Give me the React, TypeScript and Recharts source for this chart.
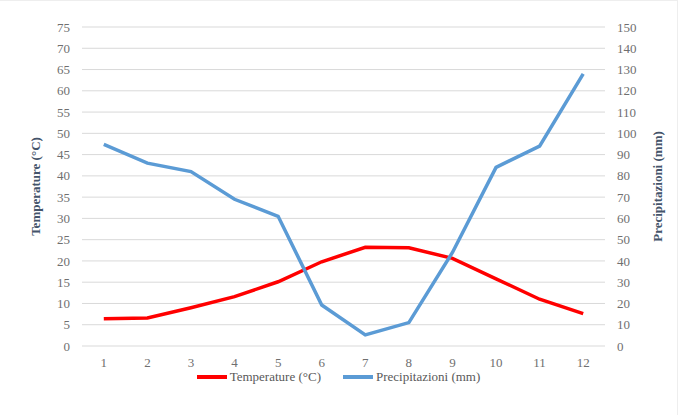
import React from "react";
import { LineChart, Line, XAxis, YAxis, CartesianGrid, Legend } from "recharts";

const months = ["1", "2", "3", "4", "5", "6", "7", "8", "9", "10", "11", "12"];
const temperature = [6.4, 6.6, 9.0, 11.6, 15.1, 19.8, 23.2, 23.1, 20.6, 15.8, 11.0, 7.6];
const precipitation = [94.8, 86, 82, 69, 61, 19.3, 5.2, 11, 44, 84, 94, 128];
const leftTicks = [0, 5, 10, 15, 20, 25, 30, 35, 40, 45, 50, 55, 60, 65, 70, 75];
const rightTicks = [0, 10, 20, 30, 40, 50, 60, 70, 80, 90, 100, 110, 120, 130, 140, 150];
const seriesOrder = ["temp", "prec"];

const data = months.map((m, i) => ({
  month: m,
  temp: temperature[i],
  prec: precipitation[i],
}));

const FONT = "Times New Roman, Liberation Serif, serif";
const tickStyle = { fontFamily: FONT, fontSize: 13, fill: "#6f6f6f" };

const renderLegend = (props: any) => {
  const payload = [...(props.payload || [])].sort(
    (a: any, b: any) => seriesOrder.indexOf(a.dataKey) - seriesOrder.indexOf(b.dataKey)
  );
  return (
    <div style={{ display: "flex", justifyContent: "center", alignItems: "center", fontFamily: FONT, fontSize: 13, color: "#595959" }}>
      {payload.map((entry: any, i: number) => (
        <div key={i} style={{ display: "flex", alignItems: "center", marginRight: i === 0 ? 22 : 0 }}>
          <span style={{ display: "inline-block", width: 30, height: 4, background: entry.color, marginRight: 3 }} />
          <span style={{ fontFamily: FONT }}>{entry.value}</span>
        </div>
      ))}
    </div>
  );
};

export default function App() {
  return (
    <div style={{ position: "absolute", left: 0, top: 0, width: 678, height: 415, background: "#fff", boxSizing: "border-box", borderTop: "1px solid #eeeeee", borderRight: "1px solid #eeeeee", fontFamily: FONT }}>
      <LineChart width={677} height={414} data={data} margin={{ top: 26, right: 0, bottom: 39, left: 0 }} style={{ fontFamily: FONT }}>
        <CartesianGrid vertical={false} stroke="#d9d9d9" strokeWidth={1} yAxisId="left" />
        <XAxis
          dataKey="month"
          axisLine={false}
          tickLine={false}
          tickSize={0}
          tickMargin={12}
          height={30}
          padding={{ left: 21.8, right: 21.8 }}
          tick={tickStyle}
          interval={0}
        />
        <YAxis
          yAxisId="left"
          domain={[0, 75]}
          ticks={leftTicks}
          interval={0}
          width={82}
          axisLine={false}
          tickLine={false}
          tickSize={0}
          tickMargin={12}
          tick={tickStyle}
          label={{ value: "Temperature (°C)", angle: -90, position: "center", dx: -6, style: { fontFamily: FONT, fontSize: 13, fontWeight: "bold", fill: "#44546a" } }}
        />
        <YAxis
          yAxisId="right"
          orientation="right"
          domain={[0, 150]}
          ticks={rightTicks}
          interval={0}
          width={72}
          axisLine={false}
          tickLine={false}
          tickSize={0}
          tickMargin={12}
          tick={tickStyle}
          label={{ value: "Precipitazioni  (mm)", angle: -90, position: "center", dx: 16, style: { fontFamily: FONT, fontSize: 13, fontWeight: "bold", fill: "#44546a", whiteSpace: "pre" } }}
        />
        <Line yAxisId="left" type="linear" dataKey="temp" name="Temperature (°C)" stroke="#ff0000" strokeWidth={3.5} dot={false} isAnimationActive={false} />
        <Line yAxisId="right" type="linear" dataKey="prec" name="Precipitazioni (mm)" stroke="#5b9bd5" strokeWidth={3.5} dot={false} isAnimationActive={false} />
        <Legend verticalAlign="middle" layout="horizontal" content={renderLegend} wrapperStyle={{ top: 368, left: 0, width: 677 }} />
      </LineChart>
    </div>
  );
}
